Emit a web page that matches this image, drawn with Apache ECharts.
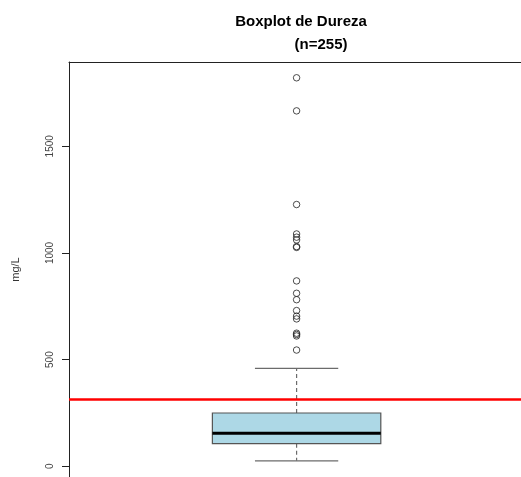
<!DOCTYPE html>
<html>
<head>
<meta charset="utf-8">
<script src="https://cdn.jsdelivr.net/npm/echarts@6/dist/echarts.min.js"></script>
<style>
html,body{margin:0;padding:0;background:#fff;}
#chart{width:521px;height:477px;}
</style>
</head>
<body>
<div id="chart"></div>
<script>
// ---- data ----
var titleLine1 = 'Boxplot de Dureza';
var titleLine2 = '(n=255)';
var yAxisName = 'mg/L';
var yTicks = [0, 500, 1000, 1500];
// five-number summary: [lowerWhisker, Q1, median, Q3, upperWhisker]
var boxStats = [26, 106, 155, 250, 459];
var outliers = [1821, 1666, 1227, 1089, 1074, 1061, 1030, 1026, 869, 811, 781, 730, 704, 691, 624, 618, 611, 545];
var referenceLine = 315;

var FONT = '"Liberation Sans", Arial, sans-serif';
var chart = echarts.init(document.getElementById('chart'), null, {renderer: 'canvas'});

var boxData = [[1].concat(boxStats)];
var outlierData = outliers.map(function (v) { return [1, v]; });

function renderBox(params, api) {
  var x = api.value(0);
  var lo = api.coord([x, api.value(1)]);
  var q1 = api.coord([x, api.value(2)]);
  var md = api.coord([x, api.value(3)]);
  var q3 = api.coord([x, api.value(4)]);
  var hi = api.coord([x, api.value(5)]);
  var bw = api.size([0.37, 0])[0];
  var cw = api.size([0.183, 0])[0];
  var cx = md[0];
  var gray = '#6b6b6b';
  return {
    type: 'group',
    children: [
      {type: 'line', shape: {x1: cx, y1: q3[1], x2: cx, y2: hi[1]},
       style: {stroke: gray, lineWidth: 1.2, lineDash: [4, 3]}},
      {type: 'line', shape: {x1: cx, y1: q1[1], x2: cx, y2: lo[1]},
       style: {stroke: gray, lineWidth: 1.2, lineDash: [4, 3]}},
      {type: 'line', shape: {x1: cx - cw / 2, y1: hi[1], x2: cx + cw / 2, y2: hi[1]},
       style: {stroke: gray, lineWidth: 1.2}},
      {type: 'line', shape: {x1: cx - cw / 2, y1: lo[1], x2: cx + cw / 2, y2: lo[1]},
       style: {stroke: gray, lineWidth: 1.2}},
      {type: 'rect', shape: {x: cx - bw / 2, y: q3[1], width: bw, height: q1[1] - q3[1]},
       style: {fill: '#add8e6', stroke: '#555555', lineWidth: 1.2}},
      {type: 'line', shape: {x1: cx - bw / 2, y1: md[1], x2: cx + bw / 2, y2: md[1]},
       style: {stroke: '#000000', lineWidth: 3}}
    ]
  };
}

chart.setOption({
  animation: false,
  backgroundColor: '#ffffff',
  title: [
    {text: titleLine1, left: 296, top: 9, textAlign: 'center',
     textStyle: {fontFamily: FONT, fontSize: 15, fontWeight: 'bold', color: '#000'}},
    {text: titleLine2, left: 316, top: 32, textAlign: 'center',
     textStyle: {fontFamily: FONT, fontSize: 15, fontWeight: 'bold', color: '#000'}}
  ],
  grid: {left: 69, top: 62, right: 0, height: 421, show: false},
  xAxis: {type: 'value', min: 0.5, max: 1.493, position: 'top',
          axisLine: {show: true, onZero: false, lineStyle: {color: '#222', width: 1}},
          axisTick: {show: false}, axisLabel: {show: false}, splitLine: {show: false}},
  yAxis: {
    type: 'value', min: -50, max: 1895,
    name: yAxisName, nameLocation: 'middle', nameGap: 48, nameRotate: 90,
    nameTextStyle: {fontFamily: FONT, fontSize: 11, color: '#333'},
    axisLine: {show: true, onZero: false, lineStyle: {color: '#222', width: 1}},
    axisTick: {show: true, length: 7, customValues: yTicks, lineStyle: {color: '#222'}},
    axisLabel: {show: true, customValues: yTicks, rotate: 90, margin: 14,
                formatter: function (v) { return String(v); },
                fontFamily: FONT, fontSize: 10, color: '#444'},
    splitLine: {show: false}
  },
  series: [
    {type: 'custom', renderItem: renderBox, data: boxData, z: 2,
     encode: {x: 0, y: [1, 2, 3, 4, 5]},
     markLine: {silent: true, symbol: 'none', label: {show: false},
                lineStyle: {color: '#ff0000', width: 2.5, type: 'solid'},
                data: [{yAxis: referenceLine}]}},
    {type: 'scatter', data: outlierData, symbol: 'circle', symbolSize: 6.5, z: 3,
     itemStyle: {color: 'rgba(0,0,0,0)', borderColor: '#222', borderWidth: 1}}
  ]
});
</script>
</body>
</html>
